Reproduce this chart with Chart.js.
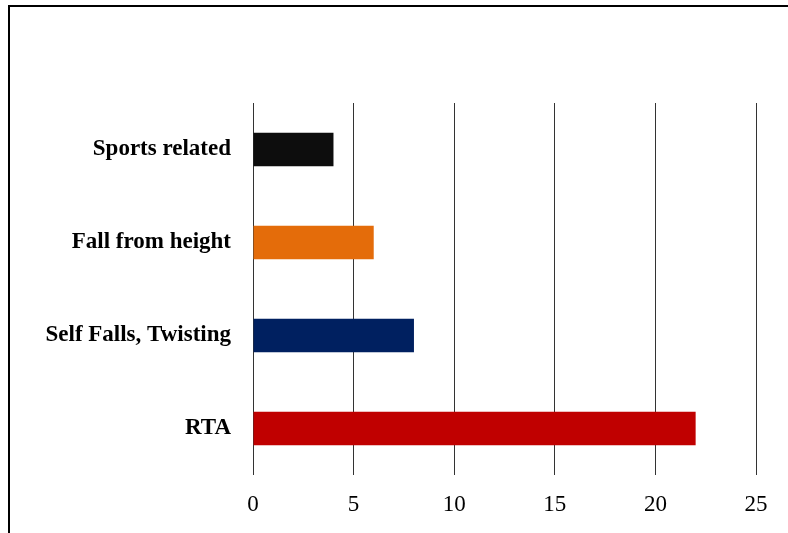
<!DOCTYPE html>
<html>
<head>
<meta charset="utf-8">
<script src="https://cdn.jsdelivr.net/npm/chart.js@4.4.0/dist/chart.umd.min.js"></script>
<style>
  html, body { margin: 0; padding: 0; background: #fff; }
  #wrap { position: relative; width: 788px; height: 533px; overflow: hidden; }
  #frame { position: absolute; left: 8px; top: 5px; width: 900px; height: 600px;
           border-left: 2px solid #000; border-top: 2px solid #000; box-sizing: border-box; }
  canvas { position: absolute; left: 0; top: 0; }
</style>
</head>
<body>
<div id="wrap">
  <div id="frame"></div>
  <canvas id="c" width="788" height="533"></canvas>
</div>
<script>
// Injury mechanism counts (horizontal bars, top to bottom)
const categories = ["Sports related", "Fall from height", "Self Falls, Twisting", "RTA"];
const counts = [4, 6, 8, 22];
const barColors = ["#0d0d0d", "#e46c0a", "#002060", "#c00000"];
const xTicks = [0, 5, 10, 15, 20, 25];

new Chart(document.getElementById("c"), {
  type: "bar",
  data: {
    labels: categories,
    datasets: [{
      data: counts,
      backgroundColor: barColors,
      borderWidth: 0,
      barPercentage: 0.36,
      categoryPercentage: 1.0
    }]
  },
  options: {
    indexAxis: "y",
    responsive: false,
    animation: false,
    layout: { padding: { top: 103, right: 32, bottom: 0, left: 0 } },
    plugins: { legend: { display: false }, tooltip: { enabled: false } },
    scales: {
      x: {
        min: xTicks[0],
        max: xTicks[xTicks.length - 1],
        afterBuildTicks: (s) => { s.ticks = xTicks.map(v => ({ value: v })); },
        afterFit: (s) => { s.height = 58; },
        grid: { color: "#333333", lineWidth: 1, drawTicks: false },
        border: { display: false },
        ticks: {
          padding: 16,
          color: "#000",
          font: { family: "Liberation Serif", size: 23 }
        }
      },
      y: {
        afterFit: (s) => { s.width = 253; },
        grid: { display: false, drawTicks: false },
        border: { display: false },
        ticks: {
          padding: 22,
          color: "#000",
          font: { family: "Liberation Serif", size: 23, weight: "bold" }
        }
      }
    }
  }
});
</script>
</body>
</html>
